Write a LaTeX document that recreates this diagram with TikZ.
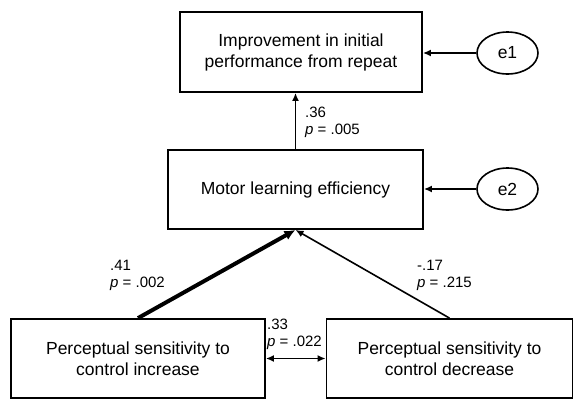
\documentclass[tikz,border=0pt]{standalone}
\usepackage{fontspec}
\setmainfont{Liberation Sans}
\usetikzlibrary{arrows.meta}
\usetikzlibrary{shapes.geometric}

\begin{document}
\begin{tikzpicture} [x=1pt,y=-1pt,
  box/.style={draw,line width=1.8pt,inner sep=0pt,align=center,font=\fontsize{17.5}{21}\selectfont},
  err/.style={draw,ellipse,line width=1.6pt,inner sep=0pt,minimum width=61pt,minimum height=42pt,font=\fontsize{17.5}{21}\selectfont},
  coef/.style={anchor=north west,inner sep=0pt,align=left,font=\fontsize{15}{17}\selectfont},
  path/.style={line width=1.6pt,-{Latex[length=8pt,width=7pt]}}]

\useasboundingbox (0,0) rectangle (574,400);

\node[box,minimum width=242pt,minimum height=80pt] (improve) at (301,52) {Improvement in initial\\performance from repeat};
\node[box,minimum width=255pt,minimum height=79pt] (motor) at (295.5,189.5) {Motor learning efficiency};
\node[box,minimum width=254pt,minimum height=79pt] (inc) at (138,358.5) {Perceptual sensitivity to\\control increase};
\node[box,minimum width=246pt,minimum height=79pt] (dec) at (449.5,358.5) {Perceptual sensitivity to\\control decrease};
\node[err] (e1) at (507.5,53) {e1};
\node[err] (e2) at (507.5,189) {e2};

\draw[path] (e1) -- (e1 -| improve.east);
\draw[path] (e2) -- (e2 -| motor.east);
\draw[path] (motor.north) -- (motor.north |- improve.south);
\draw[line width=4pt,-{Latex[length=11pt,width=10pt]}] (inc.north) -- (motor.south);
\draw[path] (dec.north) -- (motor.south);
\draw[line width=1.6pt,{Latex[length=8pt,width=7pt]}-{Latex[length=8pt,width=7pt]}] (inc.east) -- (dec.west);

\node[coef] (c36) at (305,107) {.36\\\textit{p} = .005};
\node[coef] (c41) at (110,260) {.41\\\textit{p} = .002};
\node[coef] (c17) at (417,260) {-.17\\\textit{p} = .215};
\node[coef] (c33) at (267,319) {.33\\\textit{p} = .022};

\end{tikzpicture}
\end{document}
